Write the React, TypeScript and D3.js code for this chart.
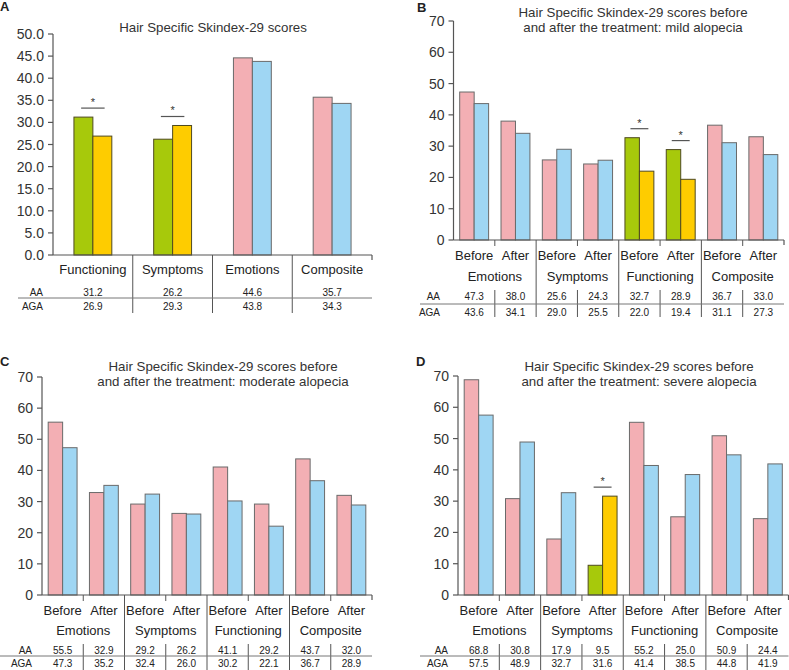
import React from "react";
import * as d3 from "d3";

// ---------- data ----------
const categoriesA = ["Functioning", "Symptoms", "Emotions", "Composite"];
const aaA = [31.2, 26.2, 44.6, 35.7];
const agaA = [26.9, 29.3, 43.8, 34.3];
const sigA = [0, 1];
const ticksA = [0, 5, 10, 15, 20, 25, 30, 35, 40, 45, 50];

const groupsBCD = ["Emotions", "Symptoms", "Functioning", "Composite"];
const phases = ["Before", "After"];
const ticksBCD = [0, 10, 20, 30, 40, 50, 60, 70];

const aaB = [47.3, 38.0, 25.6, 24.3, 32.7, 28.9, 36.7, 33.0];
const agaB = [43.6, 34.1, 29.0, 25.5, 22.0, 19.4, 31.1, 27.3];
const sigB = [4, 5];

const aaC = [55.5, 32.9, 29.2, 26.2, 41.1, 29.2, 43.7, 32.0];
const agaC = [47.3, 35.2, 32.4, 26.0, 30.2, 22.1, 36.7, 28.9];
const sigC: number[] = [];

const aaD = [68.8, 30.8, 17.9, 9.5, 55.2, 25.0, 50.9, 24.4];
const agaD = [57.5, 48.9, 32.7, 31.6, 41.4, 38.5, 44.8, 41.9];
const sigD = [3];

const rowLabels = ["AA", "AGA"];

// ---------- styles ----------
const FONT = "'Liberation Sans', Arial, Helvetica, sans-serif";
const PINK = "#F3AFB4";
const BLUE = "#9FD6F3";
const GREEN = "#A7C90B";
const YELLOW = "#FECC00";
const AXIS = "#555";

type PanelProps = {
  letter: string;
  lx: number;
  ly: number;
  title: string[];
  tx: number;
  ty: number;
  x0: number;
  x1: number;
  yTop: number;
  yBottom: number;
  ticks: number[];
  fmt: (v: number) => string;
  aa: number[];
  aga: number[];
  sig: number[];
  groups: string[];
  sub: string[] | null;
  labelRight: number;
  lineStart: number;
  tight?: boolean;
};

function Panel(p: PanelProps) {
  const n = p.aa.length;
  const yMax = p.ticks[p.ticks.length - 1];
  const y = d3.scaleLinear().domain([0, yMax]).range([p.yBottom, p.yTop]);
  const pi = p.sub ? 0.3 : 0.525;
  const slot = d3
    .scaleBand<number>()
    .domain(d3.range(n))
    .range([p.x0, p.x1])
    .paddingInner(pi)
    .paddingOuter(pi / 2);
  const inner = d3.scaleBand<string>().domain(rowLabels).range([0, slot.bandwidth()]);
  const step = slot.step();
  const center = (i: number) => p.x0 + step * i + step / 2;
  const b = p.yBottom;

  // row layout
  const L = p.sub
    ? p.tight
      ? { sub: 15, grp: 35, aa: 55, line: 61, aga: 68, end: 75, minorTop: 49 }
      : { sub: 15, grp: 36, aa: 56, line: 64, aga: 72, end: 77, minorTop: 50 }
    : { sub: 0, grp: 14, aa: 37, line: 43, aga: 51, end: 58, minorTop: 0 };

  const groupSize = p.sub ? p.sub.length : 1;
  const nGroups = n / groupSize;
  const groupW = step * groupSize;

  return (
    <g>
      <text x={p.lx} y={p.ly} fontFamily={FONT} fontWeight="bold" fontSize={13} fill="#222">
        {p.letter}
      </text>
      {p.title.map((t, i) => (
        <text
          key={i}
          x={p.tx}
          y={p.ty + i * 14.5}
          textAnchor="middle"
          fontFamily={FONT}
          fontSize={13.3}
          fill="#333"
        >
          {t}
        </text>
      ))}
      {/* bars */}
      {d3.range(n).map((i) => {
        const isSig = p.sig.includes(i);
        const vals = [p.aa[i], p.aga[i]];
        const cols = isSig ? [GREEN, YELLOW] : [PINK, BLUE];
        const x = slot(i) as number;
        return (
          <g key={i}>
            {vals.map((v, k) => (
              <rect
                key={k}
                x={x + (inner(rowLabels[k]) as number)}
                y={y(v)}
                width={inner.bandwidth()}
                height={b - y(v)}
                fill={cols[k]}
                stroke={isSig ? "#4f4a20" : "#6a6a6a"}
                strokeWidth={1}
              />
            ))}
            {isSig && (
              <g>
                <line
                  x1={center(i) - slot.bandwidth() * 0.31}
                  x2={center(i) + slot.bandwidth() * 0.31}
                  y1={y(Math.max(...vals)) - 9}
                  y2={y(Math.max(...vals)) - 9}
                  stroke="#555"
                  strokeWidth={1.2}
                />
                <text
                  x={center(i)}
                  y={y(Math.max(...vals)) - 11}
                  textAnchor="middle"
                  fontFamily={FONT}
                  fontSize={11}
                  fill="#333"
                >
                  *
                </text>
              </g>
            )}
          </g>
        );
      })}
      {/* y axis */}
      <line x1={p.x0} x2={p.x0} y1={y(yMax)} y2={b} stroke={AXIS} strokeWidth={1.2} />
      {p.ticks.map((t) => (
        <g key={t}>
          <line x1={p.x0 - 5} x2={p.x0} y1={y(t)} y2={y(t)} stroke={AXIS} strokeWidth={1.2} />
          <text
            x={p.x0 - 9}
            y={y(t)}
            dy="0.36em"
            textAnchor="end"
            fontFamily={FONT}
            fontSize={14}
            fill="#333"
          >
            {p.fmt(t)}
          </text>
        </g>
      ))}
      {/* x axis */}
      <line x1={p.x0} x2={p.x1} y1={b} y2={b} stroke={AXIS} strokeWidth={1.2} />
      <line x1={p.x1} x2={p.x1} y1={b} y2={b + 5} stroke={AXIS} strokeWidth={1.2} />
      {/* major separators */}
      {d3.range(1, nGroups).map((g) => (
        <line
          key={g}
          x1={p.x0 + g * groupW}
          x2={p.x0 + g * groupW}
          y1={b}
          y2={b + L.end}
          stroke={AXIS}
          strokeWidth={1}
        />
      ))}
      {/* minor separators */}
      {p.sub &&
        d3.range(nGroups).map((g) => {
          const mx = p.x0 + g * groupW + step;
          return (
            <g key={g}>
              <line x1={mx} x2={mx} y1={b} y2={b + 6} stroke={AXIS} strokeWidth={1} />
              <line x1={mx} x2={mx} y1={b + L.minorTop} y2={b + L.end} stroke={AXIS} strokeWidth={1} />
            </g>
          );
        })}
      {/* sub labels */}
      {p.sub &&
        d3.range(n).map((i) => (
          <text
            key={i}
            x={center(i)}
            y={b + L.sub}
            dy="0.36em"
            textAnchor="middle"
            fontFamily={FONT}
            fontSize={13}
            fill="#222"
          >
            {p.sub![i % groupSize]}
          </text>
        ))}
      {/* group labels */}
      {p.groups.map((gname, g) => (
        <text
          key={g}
          x={p.x0 + g * groupW + groupW / 2}
          y={b + L.grp}
          dy="0.36em"
          textAnchor="middle"
          fontFamily={FONT}
          fontSize={13}
          fill="#222"
        >
          {gname}
        </text>
      ))}
      {/* table */}
      <line x1={p.lineStart} x2={p.x1} y1={b + L.line} y2={b + L.line} stroke="#777" strokeWidth={1} />
      {[p.aa, p.aga].map((row, r) => (
        <g key={r}>
          <text
            x={p.labelRight}
            y={b + (r === 0 ? L.aa : L.aga)}
            dy="0.36em"
            textAnchor="end"
            fontFamily={FONT}
            fontSize={10}
            fill="#222"
          >
            {rowLabels[r]}
          </text>
          {row.map((v, i) => (
            <text
              key={i}
              x={center(i)}
              y={b + (r === 0 ? L.aa : L.aga)}
              dy="0.36em"
              textAnchor="middle"
              fontFamily={FONT}
              fontSize={10}
              fill="#222"
            >
              {v.toFixed(1)}
            </text>
          ))}
        </g>
      ))}
    </g>
  );
}

export default function App() {
  const f1 = d3.format(".1f");
  const f0 = d3.format("d");
  return (
    <svg
      width={789}
      height={670}
      style={{ position: "absolute", left: 0, top: 0, background: "#fff" }}
    >
      <rect width={789} height={670} fill="#fff" />
      <Panel
        letter="A"
        lx={0}
        ly={11}
        title={["Hair Specific Skindex-29 scores"]}
        tx={213}
        ty={32}
        x0={53}
        x1={372}
        yTop={34}
        yBottom={255}
        ticks={ticksA}
        fmt={f1}
        aa={aaA}
        aga={agaA}
        sig={sigA}
        groups={categoriesA}
        sub={null}
        labelRight={43}
        lineStart={18}
      />
      <Panel
        letter="B"
        lx={417}
        ly={12}
        title={["Hair Specific Skindex-29 scores before", "and after the treatment: mild alopecia"]}
        tx={633}
        ty={17}
        x0={453.5}
        x1={784}
        yTop={21}
        yBottom={240}
        ticks={ticksBCD}
        fmt={f0}
        aa={aaB}
        aga={agaB}
        sig={sigB}
        groups={groupsBCD}
        sub={phases}
        labelRight={440}
        lineStart={420}
      />
      <Panel
        letter="C"
        lx={0}
        ly={366}
        title={["Hair Specific Skindex-29 scores before", "and after the treatment: moderate alopecia"]}
        tx={223}
        ty={371}
        x0={42}
        x1={372}
        yTop={377}
        yBottom={595}
        ticks={ticksBCD}
        fmt={f0}
        aa={aaC}
        aga={agaC}
        sig={sigC}
        groups={groupsBCD}
        sub={phases}
        labelRight={32}
        lineStart={-3}
        tight
      />
      <Panel
        letter="D"
        lx={416}
        ly={366}
        title={["Hair Specific Skindex-29 scores before", "and after the treatment: severe alopecia"]}
        tx={639}
        ty={371}
        x0={458}
        x1={788.5}
        yTop={376}
        yBottom={595}
        ticks={ticksBCD}
        fmt={f0}
        aa={aaD}
        aga={agaD}
        sig={sigD}
        groups={groupsBCD}
        sub={phases}
        labelRight={448}
        lineStart={420}
        tight
      />
    </svg>
  );
}
